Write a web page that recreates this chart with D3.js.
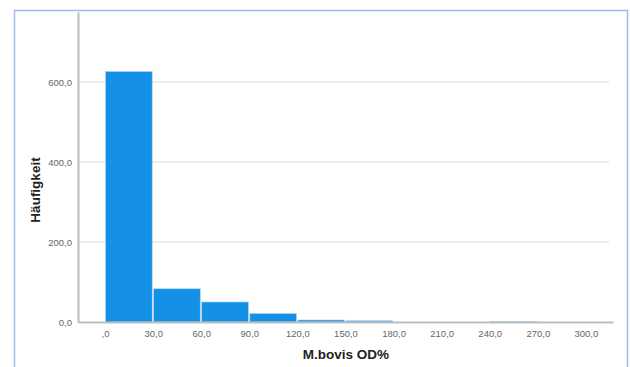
<!DOCTYPE html>
<html>
<head>
<meta charset="utf-8">
<script src="https://cdn.jsdelivr.net/npm/d3@7"></script>
<style>
    body { margin: 0; background: #fff; }
    .tick-label { font-family: Arial, "Liberation Sans", sans-serif; font-size: 9.5px; fill: #666; }
    .axis-label { font-family: Arial, "Liberation Sans", sans-serif; font-weight: bold; fill: #222; }
</style>
</head>
<body>
<div id="chart"></div>
<script>
// histogram bins (M.bovis OD%, width 30) and counts
let binStarts = [0, 30, 60, 90, 120, 150, 180, 210, 240, 270];
let counts = [626, 83, 50, 21, 5, 3, 0, 0, 1, 0];
let xTicks = [0, 30, 60, 90, 120, 150, 180, 210, 240, 270, 300];
let yTicks = [0, 200, 400, 600];
let binWidth = 30;

let width = 630, height = 367;
let margin = {top: 12, right: 17, bottom: 45, left: 78};

let svg = d3.select("#chart").append("svg")
    .attr("width", width)
    .attr("height", height);

// outer frame
svg.append("rect")
    .attr("x", 14.5).attr("y", 10.5)
    .attr("width", 613).attr("height", 380)
    .attr("fill", "none")
    .attr("stroke", "#9dbbe8")
    .attr("stroke-width", 1.5);

let plotRight = width - margin.right;
let plotBottom = 322;

// scales
let x = d3.scaleLinear().domain([-16.9, 316.9]).range([margin.left, plotRight]);
let y = d3.scaleLinear().domain([0, 775]).range([plotBottom, margin.top]);

// comma decimal format like ",0" / "30,0"
let fmt = v => v === 0 ? ",0" : d3.format(".1f")(v).replace(".", ",");
let fmtY = v => d3.format(".1f")(v).replace(".", ",");

// grid lines
svg.append("g")
    .selectAll("line")
    .data(yTicks.filter(d => d > 0))
    .join("line")
    .attr("x1", margin.left)
    .attr("x2", plotRight - 4)
    .attr("y1", d => y(d))
    .attr("y2", d => y(d))
    .attr("stroke", "#dcdcdc")
    .attr("stroke-width", 1.2);

// bars
let data = binStarts.map((b, i) => ({start: b, count: counts[i]}));
svg.append("g")
    .selectAll("rect")
    .data(data.filter(d => d.count > 0))
    .join("rect")
    .attr("x", d => x(d.start) + 0.5)
    .attr("width", d => x(d.start + binWidth) - x(d.start) - 1.5)
    .attr("y", d => y(d.count))
    .attr("height", d => plotBottom - y(d.count))
    .attr("fill", "#1490e6")
    .attr("stroke", "#9fd0f5")
    .attr("stroke-width", 0.6);

// y axis
let yAxis = d3.axisLeft(y).tickValues(yTicks).tickSize(0).tickPadding(6).tickFormat(fmtY);
let gy = svg.append("g")
    .attr("transform", `translate(${margin.left},0)`)
    .call(yAxis);
gy.select(".domain").attr("stroke", "#bdbdbd").attr("stroke-width", 2);
gy.selectAll("text").attr("class", "tick-label");

// x axis
let xAxis = d3.axisBottom(x).tickValues(xTicks).tickSize(0).tickPadding(8).tickFormat(fmt);
let gx = svg.append("g")
    .attr("transform", `translate(0,${plotBottom})`)
    .call(xAxis);
gx.select(".domain").attr("stroke", "#bdbdbd").attr("stroke-width", 2);
gx.selectAll("text").attr("class", "tick-label");

// axis titles
svg.append("text")
    .attr("class", "axis-label")
    .attr("transform", `translate(40, 190) rotate(-90)`)
    .attr("text-anchor", "middle")
    .style("font-size", "13.5px")
    .text("Häufigkeit");

svg.append("text")
    .attr("class", "axis-label")
    .attr("x", 346)
    .attr("y", 359)
    .attr("text-anchor", "middle")
    .style("font-size", "13.5px")
    .text("M.bovis OD%");
</script>
</body>
</html>
